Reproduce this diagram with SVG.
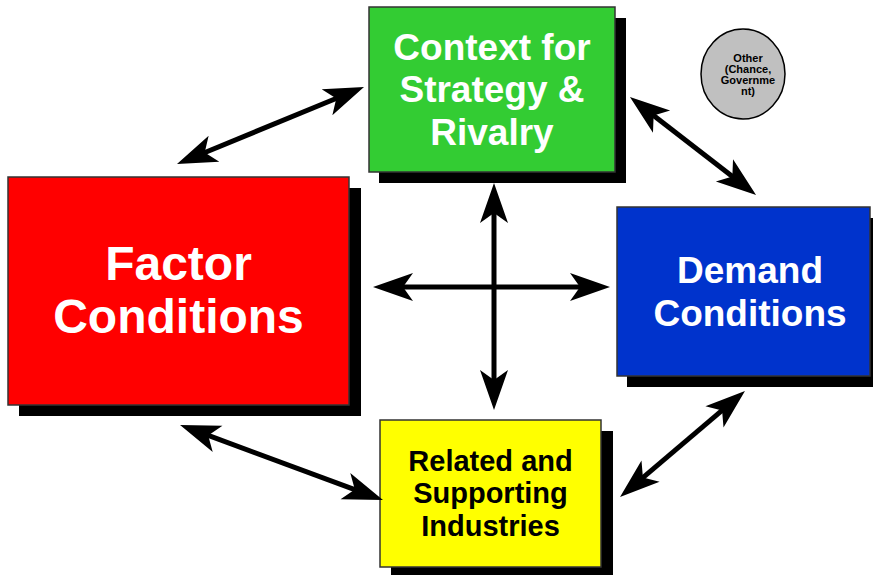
<svg xmlns="http://www.w3.org/2000/svg" width="873" height="575" viewBox="0 0 873 575">
<defs>
<style>
.shadow{fill:#000}
.box{stroke:#333;stroke-width:1.5}
.t{font-family:"Liberation Sans",Arial,sans-serif;font-weight:bold;text-anchor:middle}
.w{fill:#fff}
.k{fill:#000}
.conn line{stroke:#000;stroke-width:5;marker-start:url(#ah);marker-end:url(#ah)}
</style>
<marker id="ah" markerUnits="userSpaceOnUse" markerWidth="44" markerHeight="32" viewBox="0 -16 44 32" refX="15" refY="0" orient="auto-start-reverse" overflow="visible">
<path d="M40,0 L0,-14 L10,0 L0,14 Z" fill="#000"/>
</marker>
</defs>
<rect width="873" height="575" fill="#fff"/>
<g id="context">
<rect class="shadow" x="379" y="18" width="247" height="165"/>
<rect class="box" x="369" y="7" width="246" height="165" fill="#33CC33"/>
<text class="t w" font-size="37"><tspan x="492" y="60">Context for</tspan><tspan x="492" y="102">Strategy &amp;</tspan><tspan x="492" y="145">Rivalry</tspan></text>
</g>
<g id="factor">
<rect class="shadow" x="19" y="188" width="342" height="228"/>
<rect class="box" x="8" y="177" width="341" height="228" fill="#FF0000"/>
<text class="t w" font-size="48"><tspan x="178.5" y="280">Factor</tspan><tspan x="178.5" y="333">Conditions</tspan></text>
</g>
<g id="demand">
<rect class="shadow" x="627" y="218" width="250" height="169"/>
<rect class="box" x="617" y="207" width="253" height="169" fill="#0033CC"/>
<text class="t w" font-size="37"><tspan x="750" y="283">Demand</tspan><tspan x="750" y="326">Conditions</tspan></text>
</g>
<g id="related">
<rect class="shadow" x="391" y="431" width="222" height="150"/>
<rect class="box" x="380" y="420" width="221" height="147" fill="#FFFF00"/>
<text class="t k" font-size="29"><tspan x="490.5" y="471">Related and</tspan><tspan x="490.5" y="503">Supporting</tspan><tspan x="490.5" y="536">Industries</tspan></text>
</g>
<g id="other">
<ellipse cx="743" cy="74" rx="42" ry="45" fill="#C0C0C0" stroke="#000" stroke-width="1.5"/>
<text class="t k" font-size="11"><tspan x="748" y="62">Other</tspan><tspan x="748" y="73">(Chance,</tspan><tspan x="748" y="84">Governme</tspan><tspan x="748" y="95">nt)</tspan></text>
</g>
<g id="connectors" class="conn">
<line x1="494" y1="208" x2="494" y2="385"/>
<line x1="398" y1="287" x2="585" y2="287"/>
<line x1="200.1" y1="154.5" x2="340.9" y2="96.5"/>
<line x1="649.7" y1="112.4" x2="736.3" y2="179.6"/>
<line x1="203.5" y1="433.7" x2="359.5" y2="491.3"/>
<line x1="639.1" y1="480.8" x2="725.9" y2="407.2"/>
</g>
</svg>
